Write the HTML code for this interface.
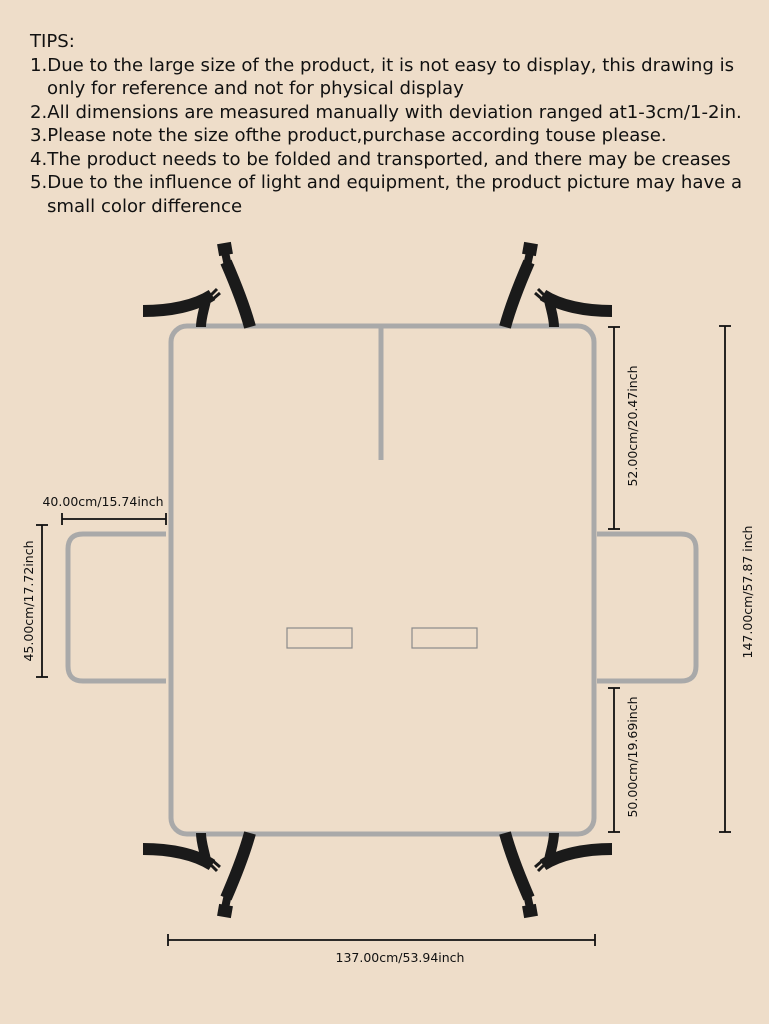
<!DOCTYPE html>
<html><head><meta charset="utf-8"><style>
html,body{margin:0;padding:0;background:#eeddc9;}
body{width:769px;height:1024px;position:relative;overflow:hidden;}
.tips{position:absolute;left:30px;top:30px;font-family:"DejaVu Sans","Liberation Sans",sans-serif;font-size:18.1px;line-height:23.5px;color:#111;white-space:nowrap;}
.tips div.i{padding-left:17px;}
svg{position:absolute;left:0;top:0;}
</style></head><body>
<div class="tips">
<div>TIPS:</div>
<div>1.Due to the large size of the product, it is not easy to display, this drawing is</div>
<div class="i">only for reference and not for physical display</div>
<div>2.All dimensions are measured manually with deviation ranged at1-3cm/1-2in.</div>
<div>3.Please note the size ofthe product,purchase according touse please.</div>
<div>4.The product needs to be folded and transported, and there may be creases</div>
<div>5.Due to the influence of light and equipment, the product picture may have a</div>
<div class="i">small color difference</div>
</div>
<svg width="769" height="1024" viewBox="0 0 769 1024">
<defs>
<g id="strap">
<path d="M143,311 C170,311 195,306 212,295" stroke="#1a1a1a" stroke-width="12" fill="none"/>
<path d="M206,300 C204,310 201,318 201,327" stroke="#1a1a1a" stroke-width="10" fill="none"/>
<path d="M210,296 l7,-7 M213,299 l7,-6" stroke="#1a1a1a" stroke-width="3"/>
<path d="M226,262 C236,285 244,305 250,327" stroke="#1a1a1a" stroke-width="12" fill="none"/>
<rect x="218" y="243" width="14" height="12" fill="#1a1a1a" transform="rotate(-10 225 249)"/>
<path d="M225,252 L228,266" stroke="#1a1a1a" stroke-width="8"/>
</g>
</defs>
<g fill="none" stroke="#a9a9a9" stroke-width="5">
<rect x="171" y="326" width="423" height="508" rx="16"/>
<line x1="381" y1="326" x2="381" y2="460"/>
<path d="M166,534 H83 Q68,534 68,549 V666 Q68,681 83,681 H166"/>
<path d="M597,534 H681 Q696,534 696,549 V666 Q696,681 681,681 H597"/>
</g>
<g fill="none" stroke="#8a8a8a" stroke-width="1.2">
<rect x="287" y="628" width="65" height="20"/>
<rect x="412" y="628" width="65" height="20"/>
</g>
<use href="#strap"/>
<use href="#strap" transform="translate(755,0) scale(-1,1)"/>
<use href="#strap" transform="translate(0,1160) scale(1,-1)"/>
<use href="#strap" transform="translate(755,1160) scale(-1,-1)"/>
<g stroke="#111" stroke-width="1.8">
<line x1="62" y1="519" x2="166" y2="519"/><line x1="62" y1="513" x2="62" y2="525"/><line x1="166" y1="513" x2="166" y2="525"/>
<line x1="42" y1="525" x2="42" y2="677"/><line x1="36" y1="525" x2="48" y2="525"/><line x1="36" y1="677" x2="48" y2="677"/>
<line x1="614" y1="327" x2="614" y2="529"/><line x1="608" y1="327" x2="620" y2="327"/><line x1="608" y1="529" x2="620" y2="529"/>
<line x1="614" y1="688" x2="614" y2="832"/><line x1="608" y1="688" x2="620" y2="688"/><line x1="608" y1="832" x2="620" y2="832"/>
<line x1="725" y1="326" x2="725" y2="832"/><line x1="719" y1="326" x2="731" y2="326"/><line x1="719" y1="832" x2="731" y2="832"/>
<line x1="168" y1="940" x2="595" y2="940"/><line x1="168" y1="934" x2="168" y2="946"/><line x1="595" y1="934" x2="595" y2="946"/>
</g>
<g font-family="DejaVu Sans, Liberation Sans, sans-serif" font-size="12.5" fill="#111" text-anchor="middle">
<text x="103" y="506">40.00cm/15.74inch</text>
<text x="400" y="962">137.00cm/53.94inch</text>
<text transform="translate(33,601) rotate(-90)">45.00cm/17.72inch</text>
<text transform="translate(637,426) rotate(-90)">52.00cm/20.47inch</text>
<text transform="translate(637,757) rotate(-90)">50.00cm/19.69inch</text>
<text transform="translate(752,592) rotate(-90)">147.00cm/57.87 inch</text>
</g>
</svg>
</body></html>
